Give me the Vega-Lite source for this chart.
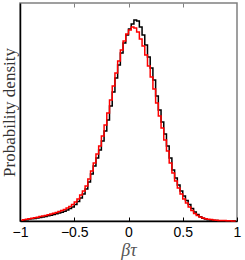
{
  "$schema": "https://vega.github.io/schema/vega-lite/v6.json",
  "width": 217,
  "height": 218,
  "autosize": {"type": "none"},
  "padding": {"left": 20, "top": 3, "right": 8, "bottom": 39},
  "background": "white",
  "config": {"view": {"stroke": "#808080", "strokeWidth": 1.5}},
  "resolve": {"axis": {"x": "independent"}},
  "datasets": {
    "black": [
      {"x": -0.9875, "d": 0.003}, {"x": -0.9625, "d": 0.008}, {"x": -0.9375, "d": 0.013}, {"x": -0.9125, "d": 0.019},
      {"x": -0.8875, "d": 0.022}, {"x": -0.8625, "d": 0.026}, {"x": -0.8375, "d": 0.030}, {"x": -0.8125, "d": 0.035},
      {"x": -0.7875, "d": 0.040}, {"x": -0.7625, "d": 0.046}, {"x": -0.7375, "d": 0.052}, {"x": -0.7125, "d": 0.058},
      {"x": -0.6875, "d": 0.065}, {"x": -0.6625, "d": 0.072}, {"x": -0.6375, "d": 0.080}, {"x": -0.6125, "d": 0.088},
      {"x": -0.5875, "d": 0.098}, {"x": -0.5625, "d": 0.11}, {"x": -0.5375, "d": 0.125}, {"x": -0.5125, "d": 0.14},
      {"x": -0.4875, "d": 0.165}, {"x": -0.4625, "d": 0.195}, {"x": -0.4375, "d": 0.23}, {"x": -0.4125, "d": 0.27},
      {"x": -0.3875, "d": 0.32}, {"x": -0.3625, "d": 0.39}, {"x": -0.3375, "d": 0.47}, {"x": -0.3125, "d": 0.55},
      {"x": -0.2875, "d": 0.63}, {"x": -0.2625, "d": 0.71}, {"x": -0.2375, "d": 0.80}, {"x": -0.2125, "d": 0.90},
      {"x": -0.1875, "d": 1.01}, {"x": -0.1625, "d": 1.15}, {"x": -0.1375, "d": 1.29}, {"x": -0.1125, "d": 1.43},
      {"x": -0.0875, "d": 1.56}, {"x": -0.0625, "d": 1.68}, {"x": -0.0375, "d": 1.78}, {"x": -0.0125, "d": 1.86},
      {"x": 0.0125, "d": 1.92}, {"x": 0.0375, "d": 1.97}, {"x": 0.0625, "d": 2.01}, {"x": 0.0875, "d": 2.00},
      {"x": 0.1125, "d": 1.94}, {"x": 0.1375, "d": 1.86}, {"x": 0.1625, "d": 1.76}, {"x": 0.1875, "d": 1.64},
      {"x": 0.2125, "d": 1.53}, {"x": 0.2375, "d": 1.41}, {"x": 0.2625, "d": 1.25}, {"x": 0.2875, "d": 1.11},
      {"x": 0.3125, "d": 0.99}, {"x": 0.3375, "d": 0.87}, {"x": 0.3625, "d": 0.75}, {"x": 0.3875, "d": 0.63},
      {"x": 0.4125, "d": 0.51}, {"x": 0.4375, "d": 0.43}, {"x": 0.4625, "d": 0.36}, {"x": 0.4875, "d": 0.30},
      {"x": 0.5125, "d": 0.25}, {"x": 0.5375, "d": 0.205}, {"x": 0.5625, "d": 0.165}, {"x": 0.5875, "d": 0.125},
      {"x": 0.6125, "d": 0.09}, {"x": 0.6375, "d": 0.065}, {"x": 0.6625, "d": 0.043}, {"x": 0.6875, "d": 0.028},
      {"x": 0.7125, "d": 0.019}, {"x": 0.7375, "d": 0.013}, {"x": 0.7625, "d": 0.009}, {"x": 0.7875, "d": 0.006},
      {"x": 0.8125, "d": 0.004}, {"x": 0.8375, "d": 0.003}, {"x": 0.8625, "d": 0.002}, {"x": 0.8875, "d": 0.001},
      {"x": 0.9125, "d": 0.001}, {"x": 0.9375, "d": 0.0005}, {"x": 0.9625, "d": 0}, {"x": 0.9875, "d": 0}
    ],
    "red": [
      {"x": -0.9875, "d": 0.008}, {"x": -0.9625, "d": 0.013}, {"x": -0.9375, "d": 0.018}, {"x": -0.9125, "d": 0.023},
      {"x": -0.8875, "d": 0.028}, {"x": -0.8625, "d": 0.033}, {"x": -0.8375, "d": 0.038}, {"x": -0.8125, "d": 0.044},
      {"x": -0.7875, "d": 0.050}, {"x": -0.7625, "d": 0.056}, {"x": -0.7375, "d": 0.063}, {"x": -0.7125, "d": 0.070},
      {"x": -0.6875, "d": 0.078}, {"x": -0.6625, "d": 0.086}, {"x": -0.6375, "d": 0.095}, {"x": -0.6125, "d": 0.105},
      {"x": -0.5875, "d": 0.116}, {"x": -0.5625, "d": 0.13}, {"x": -0.5375, "d": 0.145}, {"x": -0.5125, "d": 0.165},
      {"x": -0.4875, "d": 0.19}, {"x": -0.4625, "d": 0.22}, {"x": -0.4375, "d": 0.26}, {"x": -0.4125, "d": 0.30},
      {"x": -0.3875, "d": 0.35}, {"x": -0.3625, "d": 0.42}, {"x": -0.3375, "d": 0.50}, {"x": -0.3125, "d": 0.58},
      {"x": -0.2875, "d": 0.67}, {"x": -0.2625, "d": 0.75}, {"x": -0.2375, "d": 0.85}, {"x": -0.2125, "d": 0.96},
      {"x": -0.1875, "d": 1.08}, {"x": -0.1625, "d": 1.21}, {"x": -0.1375, "d": 1.35}, {"x": -0.1125, "d": 1.48},
      {"x": -0.0875, "d": 1.60}, {"x": -0.0625, "d": 1.71}, {"x": -0.0375, "d": 1.80}, {"x": -0.0125, "d": 1.87},
      {"x": 0.0125, "d": 1.91}, {"x": 0.0375, "d": 1.94}, {"x": 0.0625, "d": 1.93}, {"x": 0.0875, "d": 1.89},
      {"x": 0.1125, "d": 1.82}, {"x": 0.1375, "d": 1.75}, {"x": 0.1625, "d": 1.66}, {"x": 0.1875, "d": 1.55},
      {"x": 0.2125, "d": 1.44}, {"x": 0.2375, "d": 1.32}, {"x": 0.2625, "d": 1.18}, {"x": 0.2875, "d": 1.05},
      {"x": 0.3125, "d": 0.93}, {"x": 0.3375, "d": 0.81}, {"x": 0.3625, "d": 0.70}, {"x": 0.3875, "d": 0.58},
      {"x": 0.4125, "d": 0.48}, {"x": 0.4375, "d": 0.40}, {"x": 0.4625, "d": 0.33}, {"x": 0.4875, "d": 0.27},
      {"x": 0.5125, "d": 0.22}, {"x": 0.5375, "d": 0.18}, {"x": 0.5625, "d": 0.14}, {"x": 0.5875, "d": 0.105},
      {"x": 0.6125, "d": 0.075}, {"x": 0.6375, "d": 0.055}, {"x": 0.6625, "d": 0.040}, {"x": 0.6875, "d": 0.030},
      {"x": 0.7125, "d": 0.023}, {"x": 0.7375, "d": 0.018}, {"x": 0.7625, "d": 0.014}, {"x": 0.7875, "d": 0.011},
      {"x": 0.8125, "d": 0.008}, {"x": 0.8375, "d": 0.006}, {"x": 0.8625, "d": 0.005}, {"x": 0.8875, "d": 0.004},
      {"x": 0.9125, "d": 0.003}, {"x": 0.9375, "d": 0.002}, {"x": 0.9625, "d": 0.001}, {"x": 0.9875, "d": 0.0005}
    ]
  },
  "encoding": {
    "y": {
      "field": "d", "type": "quantitative",
      "scale": {"domain": [0, 2.18], "nice": false},
      "axis": {
        "labels": false, "ticks": false, "grid": false,
        "domainColor": "black", "domainWidth": 1.5,
        "title": "Probability density", "titleFont": "Liberation Serif", "titleFontWeight": "normal",
        "titleFontSize": 17, "titleColor": "#333333", "titlePadding": 2
      }
    }
  },
  "layer": [
    {
      "data": {"name": "black"},
      "mark": {"type": "line", "interpolate": "step", "color": "black", "strokeWidth": 1.5},
      "encoding": {
        "x": {
          "field": "x", "type": "quantitative",
          "scale": {"domain": [-1, 1], "nice": false, "zero": false},
          "axis": {
            "orient": "bottom",
            "values": [-1, -0.5, 0, 0.5, 1],
            "format": "~g",
            "labelExpr": "replace(datum.label, '-', '−')",
            "grid": false,
            "tickSize": -4, "tickColor": "black", "tickWidth": 1,
            "domainColor": "black", "domainWidth": 1.5,
            "labelFont": "Liberation Sans", "labelFontSize": 14, "labelColor": "black", "labelPadding": 8,
            "labelFlush": false, "labelOverlap": false,
            "title": "βτ", "titleFont": "Liberation Serif", "titleFontStyle": "italic", "titleFontWeight": "normal",
            "titleFontSize": 18, "titleColor": "#555555", "titlePadding": 2
          }
        }
      }
    },
    {
      "data": {"name": "red"},
      "mark": {"type": "line", "interpolate": "step", "color": "#ff0000", "strokeWidth": 1.5},
      "encoding": {
        "x": {"field": "x", "type": "quantitative", "axis": null}
      }
    },
    {
      "data": {"name": "black"},
      "mark": {"type": "rule", "opacity": 0},
      "encoding": {
        "x": {
          "field": "x", "type": "quantitative",
          "axis": {
            "orient": "top", "values": [-0.5, 0, 0.5], "labels": false, "title": null, "grid": false,
            "tickSize": -4, "tickColor": "#808080", "domain": false
          }
        },
        "y": {"datum": 0}
      }
    }
  ]
}
